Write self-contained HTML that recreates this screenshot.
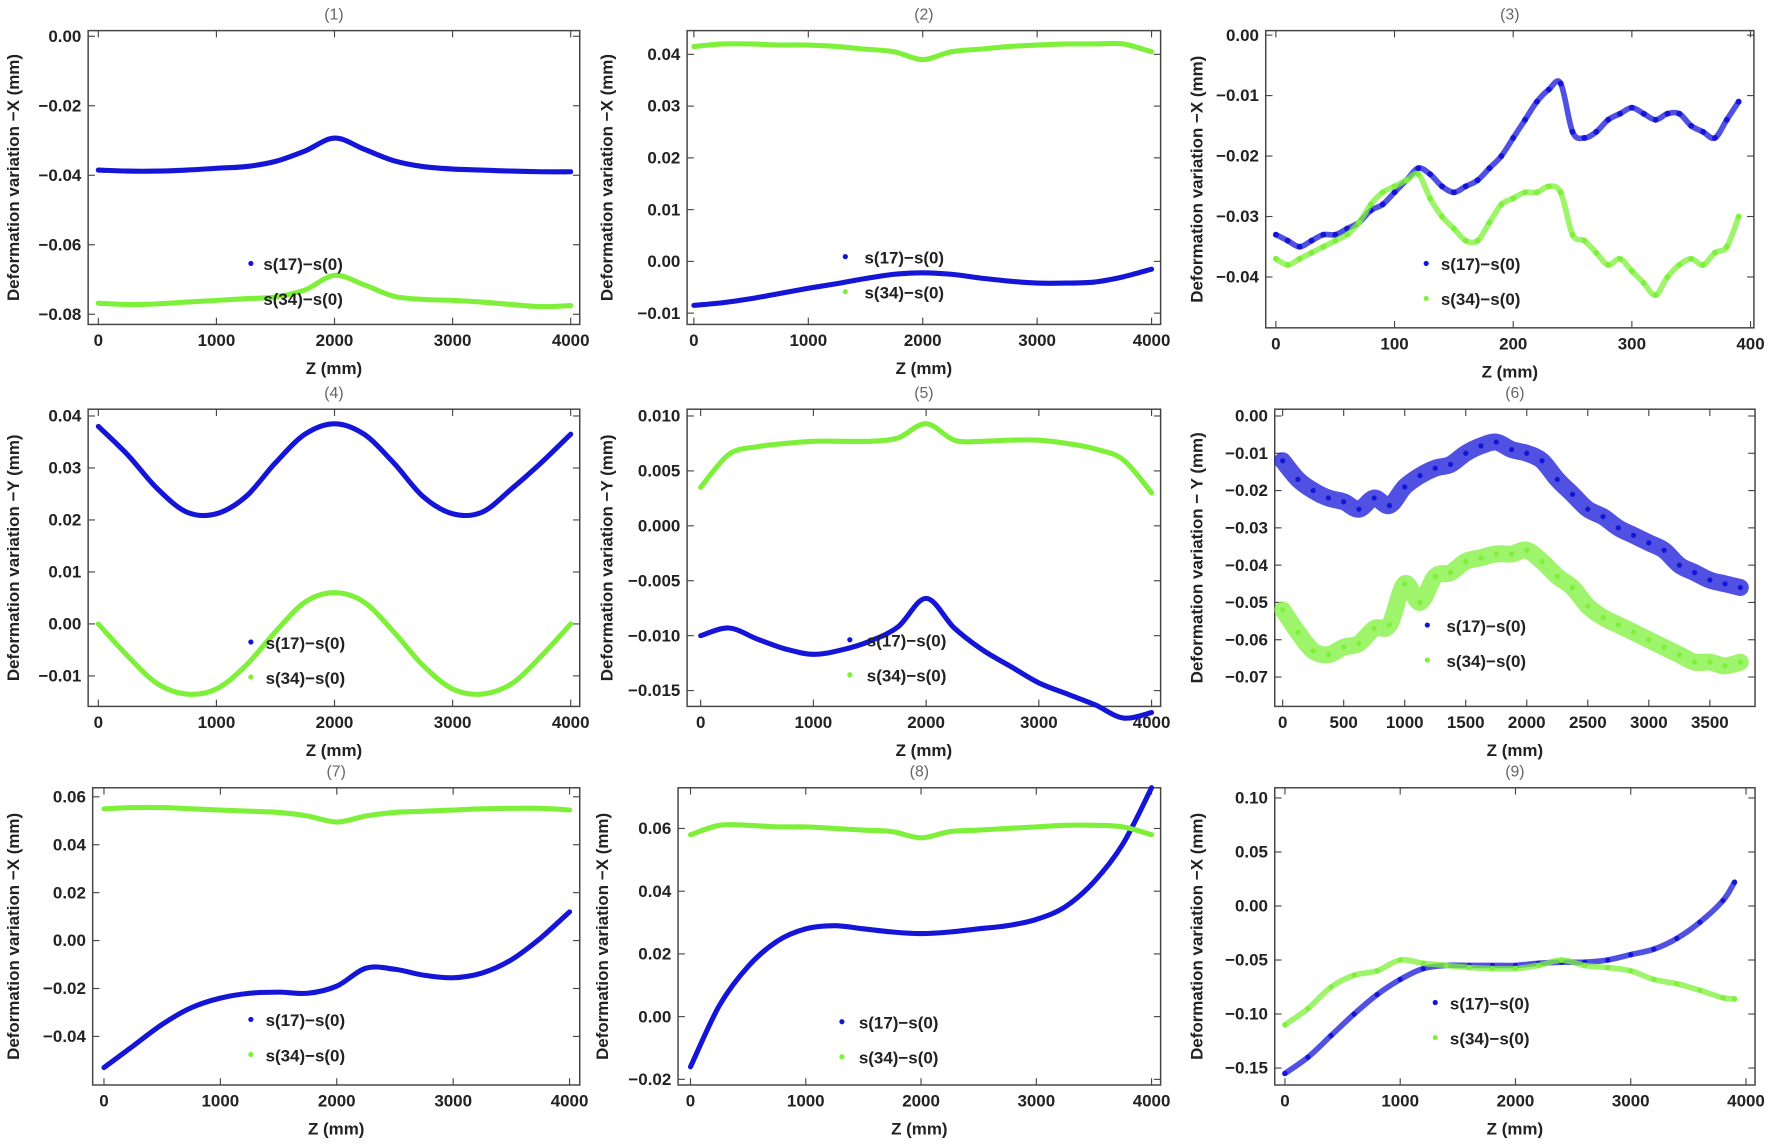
<!DOCTYPE html>
<html><head><meta charset="utf-8">
<style>
html,body{margin:0;padding:0;background:#fff;}
svg{display:block;font-family:"Liberation Sans",Arial,sans-serif;}
.tk{font-size:15px;font-weight:bold;fill:#222;}
.ttl{font-size:14px;fill:#666;}
.lab{font-size:15px;font-weight:bold;fill:#222;}
.leg{font-size:15px;font-weight:bold;fill:#222;}
</style></head>
<body>
<svg id="fig" width="1772" height="1145" viewBox="0 0 1568 1013" xmlns="http://www.w3.org/2000/svg"></svg>
<script>
// ---- data ----
const z17 = [0,250,500,750,1000,1250,1500,1750,2000,2250,2500,2750,3000,3250,3500,3750,4000];
const p1s17 = [-0.0385,-0.0388,-0.0388,-0.0385,-0.038,-0.0375,-0.036,-0.033,-0.0293,-0.0325,-0.0358,-0.0375,-0.0382,-0.0385,-0.0388,-0.039,-0.039];
const p1s34 = [-0.0768,-0.0772,-0.077,-0.0765,-0.076,-0.0755,-0.075,-0.073,-0.0688,-0.0715,-0.0748,-0.0757,-0.076,-0.0765,-0.0772,-0.0778,-0.0775];
const p2s17 = [-0.0085,-0.008,-0.0072,-0.0062,-0.0052,-0.0043,-0.0033,-0.0025,-0.0022,-0.0025,-0.0032,-0.0038,-0.0042,-0.0042,-0.004,-0.003,-0.0015];
const p2s34 = [0.0415,0.042,0.042,0.0418,0.0418,0.0415,0.041,0.0405,0.039,0.0405,0.041,0.0415,0.0418,0.042,0.042,0.042,0.0405];
const p4s17 = [0.038,0.0325,0.026,0.0215,0.0212,0.0245,0.031,0.0365,0.0385,0.0365,0.031,0.0245,0.0212,0.0215,0.026,0.031,0.0365];
const p4s34 = [0,-0.0062,-0.0115,-0.0135,-0.0125,-0.008,-0.0015,0.0042,0.006,0.0042,-0.0015,-0.008,-0.0125,-0.0135,-0.0115,-0.0062,0];
const p5s17 = [-0.0100,-0.0093,-0.0103,-0.0112,-0.0117,-0.0113,-0.0105,-0.0092,-0.0066,-0.0093,-0.0113,-0.0128,-0.0143,-0.0153,-0.0163,-0.0175,-0.0170];
const p5s34 = [0.0035,0.0065,0.0072,0.0075,0.0077,0.0077,0.0077,0.008,0.0093,0.0078,0.0077,0.0078,0.0078,0.0075,0.007,0.006,0.003];
const p7s17 = [-0.053,-0.044,-0.035,-0.028,-0.024,-0.022,-0.0215,-0.022,-0.019,-0.0115,-0.012,-0.0145,-0.0155,-0.0135,-0.008,0.001,0.012];
const p7s34 = [0.055,0.0555,0.0555,0.055,0.0545,0.054,0.0535,0.052,0.0495,0.052,0.0535,0.054,0.0545,0.055,0.0552,0.0552,0.0545];
const p8s17 = [-0.016,0.0035,0.016,0.024,0.028,0.029,0.028,0.027,0.0265,0.027,0.028,0.029,0.031,0.035,0.043,0.055,0.073];
const p8s34 = [0.058,0.061,0.061,0.0605,0.0605,0.06,0.0595,0.059,0.057,0.059,0.0595,0.06,0.0605,0.061,0.061,0.0605,0.058];
const z3 = [0,10,20,30,40,50,60,70,80,90,100,110,120,130,140,150,160,170,180,190,200,210,220,230,240,250,260,270,280,290,300,310,320,330,340,350,360,370,380,390];
const p3s17 = [-0.033,-0.034,-0.035,-0.034,-0.033,-0.033,-0.032,-0.031,-0.029,-0.028,-0.026,-0.024,-0.022,-0.023,-0.025,-0.026,-0.025,-0.024,-0.022,-0.02,-0.017,-0.014,-0.011,-0.009,-0.008,-0.016,-0.017,-0.016,-0.014,-0.013,-0.012,-0.013,-0.014,-0.013,-0.013,-0.015,-0.016,-0.017,-0.014,-0.011];
const p3s34 = [-0.037,-0.038,-0.037,-0.036,-0.035,-0.034,-0.033,-0.031,-0.028,-0.026,-0.025,-0.024,-0.023,-0.027,-0.03,-0.032,-0.034,-0.034,-0.031,-0.028,-0.027,-0.026,-0.026,-0.025,-0.026,-0.033,-0.034,-0.036,-0.038,-0.037,-0.039,-0.041,-0.043,-0.04,-0.038,-0.037,-0.038,-0.036,-0.035,-0.03];
const z6 = [0,125,250,375,500,625,750,875,1000,1125,1250,1375,1500,1625,1750,1875,2000,2125,2250,2375,2500,2625,2750,2875,3000,3125,3250,3375,3500,3625,3750];
const p6s17 = [-0.012,-0.017,-0.02,-0.022,-0.023,-0.025,-0.022,-0.024,-0.019,-0.016,-0.014,-0.013,-0.01,-0.008,-0.007,-0.009,-0.01,-0.012,-0.017,-0.021,-0.025,-0.027,-0.03,-0.032,-0.034,-0.036,-0.04,-0.042,-0.044,-0.045,-0.046];
const p6s34 = [-0.052,-0.058,-0.063,-0.064,-0.062,-0.061,-0.057,-0.056,-0.045,-0.05,-0.043,-0.042,-0.039,-0.038,-0.037,-0.037,-0.036,-0.039,-0.043,-0.046,-0.051,-0.054,-0.056,-0.058,-0.06,-0.062,-0.064,-0.066,-0.066,-0.067,-0.066];
const z9 = [0,200,400,600,800,1000,1200,1400,1600,1800,2000,2200,2400,2600,2800,3000,3200,3400,3600,3800,3900];
const p9s17 = [-0.155,-0.14,-0.12,-0.1,-0.082,-0.068,-0.058,-0.055,-0.055,-0.055,-0.055,-0.053,-0.052,-0.052,-0.05,-0.045,-0.04,-0.03,-0.015,0.005,0.022];
const p9s34 = [-0.11,-0.095,-0.075,-0.064,-0.06,-0.05,-0.053,-0.055,-0.057,-0.058,-0.058,-0.055,-0.05,-0.055,-0.057,-0.06,-0.068,-0.072,-0.078,-0.085,-0.086];
const xt4000 = [0,1000,2000,3000,4000];

// ---- panel layouts ----
const panels = [
 {id:1,box:[78,27,513,287],x:[0,87,4000,505],y:[0,32,-0.08,278],xt:xt4000,yt:[0,-0.02,-0.04,-0.06,-0.08],dec:2,yl:"Deformation variation \u2212X (mm)",ylx:17,zs:z17,a:p1s17,b:p1s34,mode:"line",leg:[222,233,233]},
 {id:2,box:[608,27,1027,287],x:[0,614,4000,1019],y:[0.04,48,-0.01,277],xt:xt4000,yt:[0.04,0.03,0.02,0.01,0,-0.01],dec:2,yl:"Deformation variation \u2212X (mm)",ylx:542,zs:z17,a:p2s17,b:p2s34,mode:"line",leg:[748,227,765]},
 {id:3,box:[1120,27,1552,290],x:[0,1129,400,1549],y:[0,31,-0.04,245],xt:[0,100,200,300,400],yt:[0,-0.01,-0.02,-0.03,-0.04],dec:2,yl:"Deformation variation \u2212X (mm)",ylx:1064,zs:z3,a:p3s17,b:p3s34,mode:"scatter",w:5,r:2.6,leg:[1262,233,1275]},
 {id:4,box:[78,362,513,625],x:[0,87,4000,505],y:[0.04,368,-0.01,598],xt:xt4000,yt:[0.04,0.03,0.02,0.01,0,-0.01],dec:2,yl:"Deformation variation \u2212Y (mm)",ylx:17,zs:z17,a:p4s17,b:p4s34,mode:"line",leg:[222,568,235]},
 {id:5,box:[608,362,1027,625],x:[0,620,4000,1019],y:[0.01,368,-0.015,611],xt:xt4000,yt:[0.01,0.005,0,-0.005,-0.01,-0.015],dec:3,yl:"Deformation variation \u2212Y (mm)",ylx:542,zs:z17,a:p5s17,b:p5s34,mode:"line",leg:[752,566,767]},
 {id:6,box:[1128,362,1553,625],x:[0,1135,3500,1513],y:[0,368,-0.07,599],xt:[0,500,1000,1500,2000,2500,3000,3500],yt:[0,-0.01,-0.02,-0.03,-0.04,-0.05,-0.06,-0.07],dec:2,yl:"Deformation variation \u2212 Y (mm)",ylx:1064,zs:z6,a:p6s17,b:p6s34,mode:"scatter",w:15,r:2.3,leg:[1263,553,1280]},
 {id:7,box:[82,697,513,960],x:[0,92,4000,504],y:[0.06,705,-0.04,917],xt:xt4000,yt:[0.06,0.04,0.02,0,-0.02,-0.04],dec:2,yl:"Deformation variation \u2212X (mm)",ylx:17,zs:z17,a:p7s17,b:p7s34,mode:"line",leg:[222,902,235]},
 {id:8,box:[600,697,1027,960],x:[0,611,4000,1019],y:[0.06,733,-0.02,955],xt:xt4000,yt:[0.06,0.04,0.02,0,-0.02],dec:2,yl:"Deformation variation \u2212X (mm)",ylx:538,zs:z17,a:p8s17,b:p8s34,mode:"line",leg:[745,904,760]},
 {id:9,box:[1128,697,1553,960],x:[0,1137,4000,1545],y:[0.1,706,-0.15,945],xt:xt4000,yt:[0.1,0.05,0,-0.05,-0.1,-0.15],dec:2,yl:"Deformation variation \u2212X (mm)",ylx:1064,zs:z9,a:p9s17,b:p9s34,mode:"scatter",w:5,r:2.3,leg:[1270,887,1283]}
];

const NS="http://www.w3.org/2000/svg";
const svg=document.getElementById('fig');
function mk(tag,attrs,parent){const e=document.createElementNS(NS,tag);for(const k in attrs)e.setAttribute(k,attrs[k]);(parent||svg).appendChild(e);return e;}
function fmt(v,d){if(Math.abs(v)<1e-12)return (0).toFixed(d);return (v<0?"\u2212":"")+Math.abs(v).toFixed(d);}
function smooth(P){
  let d='M'+P[0][0].toFixed(1)+','+P[0][1].toFixed(1);
  for(let i=0;i<P.length-1;i++){
    const p0=P[Math.max(0,i-1)],p1=P[i],p2=P[i+1],p3=P[Math.min(P.length-1,i+2)];
    const c1=[p1[0]+(p2[0]-p0[0])/6,p1[1]+(p2[1]-p0[1])/6];
    const c2=[p2[0]-(p3[0]-p1[0])/6,p2[1]-(p3[1]-p1[1])/6];
    d+=' C'+c1[0].toFixed(1)+','+c1[1].toFixed(1)+' '+c2[0].toFixed(1)+','+c2[1].toFixed(1)+' '+p2[0].toFixed(1)+','+p2[1].toFixed(1);
  }
  return d;
}
const BLUE="#1515d8", GREEN="#7ef03a";

panels.forEach(p=>{
  const g=mk('g',{});
  
  
  const [x0,y0,x1,y1]=p.box;
  const sx=v=>p.x[1]+(v-p.x[0])*(p.x[3]-p.x[1])/(p.x[2]-p.x[0]);
  const sy=v=>p.y[1]+(v-p.y[0])*(p.y[3]-p.y[1])/(p.y[2]-p.y[0]);
  const t=mk('text',{x:(x0+x1)/2,y:y0-10,'text-anchor':'middle',class:'ttl'},g);t.textContent='('+p.id+')';
  
  
  const fr=mk('rect',{x:x0,y:y0,width:x1-x0,height:y1-y0,fill:'none',stroke:'#444','stroke-width':1.3},g);
  
  
  p.xt.forEach(v=>{const X=sx(v);
    mk('line',{x1:X,y1:y1,x2:X,y2:y1-6,stroke:'#444'},g);mk('line',{x1:X,y1:y0,x2:X,y2:y0+6,stroke:'#444'},g);
    const tx=mk('text',{x:X,y:y1+19,'text-anchor':'middle',class:'tk'},g);tx.textContent=v;
    
    
  });
  p.yt.forEach(v=>{const Y=sy(v);
    mk('line',{x1:x0,y1:Y,x2:x0+6,y2:Y,stroke:'#444'},g);mk('line',{x1:x1,y1:Y,x2:x1-6,y2:Y,stroke:'#444'},g);
    const ty=mk('text',{x:x0-6,y:Y+5,'text-anchor':'end',class:'tk'},g);ty.textContent=fmt(v,p.dec);
    
    
  });
  const xl=mk('text',{x:(x0+x1)/2,y:y1+44,'text-anchor':'middle',class:'lab'},g);xl.textContent='Z (mm)';
  
  
  const cy=(y0+y1)/2;
  const yl=mk('text',{x:p.ylx,y:cy,'text-anchor':'middle',class:'lab',transform:'rotate(-90 '+p.ylx+' '+cy+')'},g);yl.textContent=p.yl;
  
  
  [[p.a,BLUE,'series-s17'],[p.b,GREEN,'series-s34']].forEach(([arr,col,nm])=>{
    const P=p.zs.map((z,i)=>[sx(z),sy(arr[i])]);
    if(p.mode==='line'){
      const pl=mk('path',{d:smooth(P),fill:'none',stroke:col,'stroke-width':4.5,'stroke-linejoin':'round','stroke-linecap':'round'},g);
      
      
    } else {
      const sg=mk('g',{},g);
      
      
      mk('path',{d:smooth(P),fill:'none',stroke:col,'stroke-width':p.w,'stroke-opacity':0.75,'stroke-linejoin':'round','stroke-linecap':'round'},sg);
      P.forEach(pt=>{const c=mk('circle',{cx:pt[0],cy:pt[1],r:p.r,fill:col},sg);
        
        });
    }
  });
  const [lx,ly,tx]=p.leg;
  const lg=mk('g',{},g);
  
  
  mk('circle',{cx:lx,cy:ly,r:2.3,fill:BLUE},lg);
  mk('circle',{cx:lx,cy:ly+31,r:2.3,fill:GREEN},lg);
  const l1=mk('text',{x:tx,y:ly+6,class:'leg'},lg);l1.textContent='s(17)\u2212s(0)';
  
  
  const l2=mk('text',{x:tx,y:ly+37,class:'leg'},lg);l2.textContent='s(34)\u2212s(0)';
  
  
});
</script>
</body></html>
